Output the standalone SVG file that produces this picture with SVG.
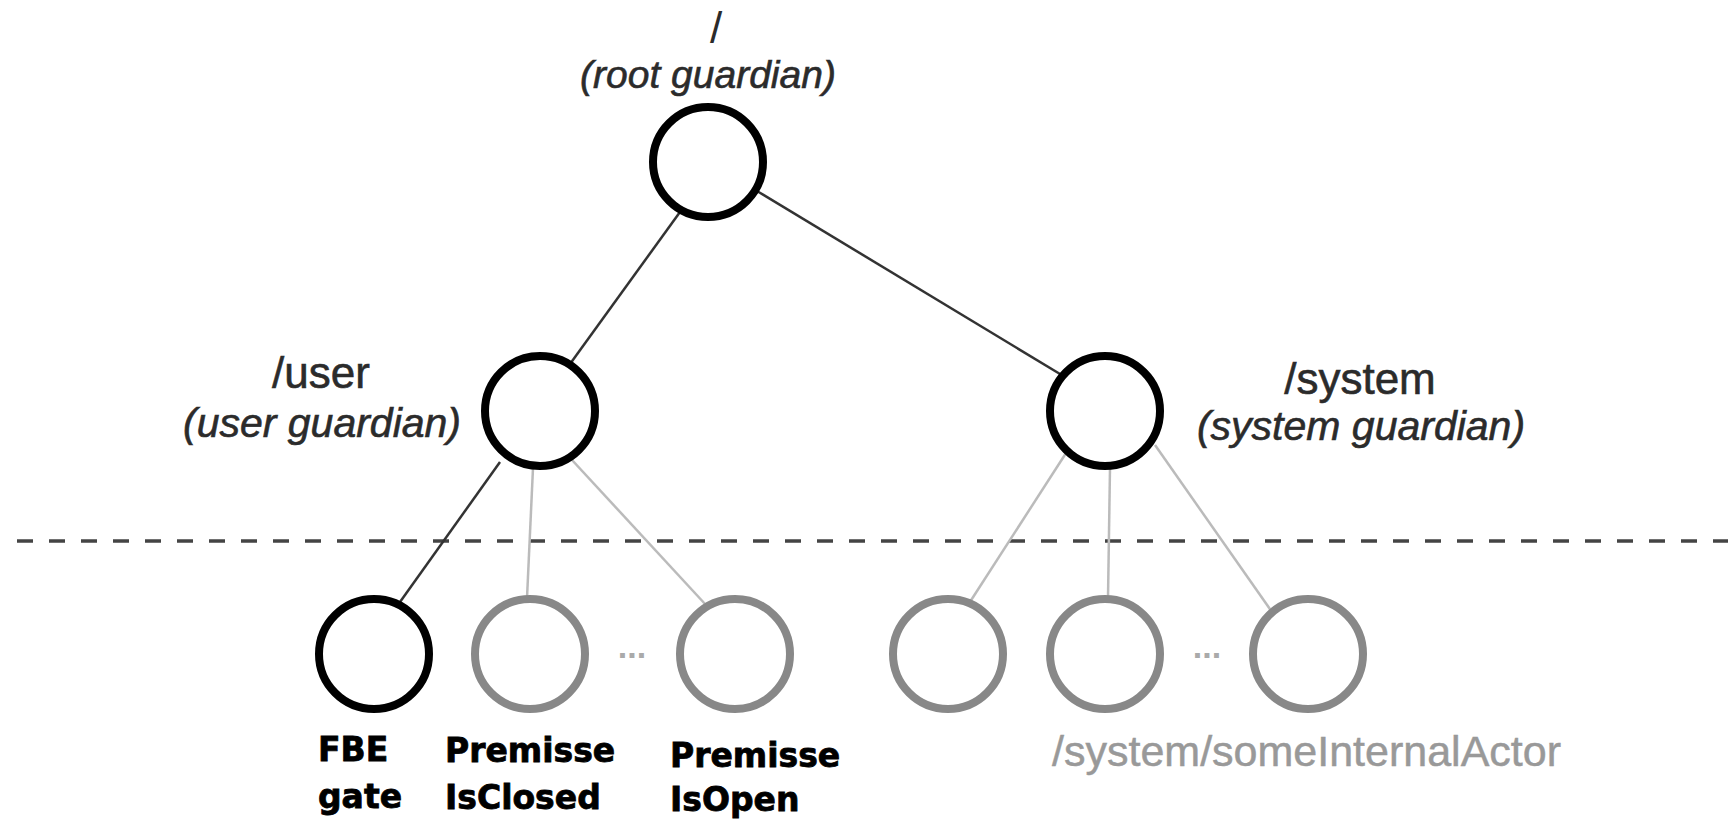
<svg xmlns="http://www.w3.org/2000/svg" width="1728" height="820" viewBox="0 0 1728 820">
<style>
.bg{fill:#fff}
.lnd{stroke:#333;stroke-width:2.5;fill:none}
.lnl{stroke:#bbb;stroke-width:2.5;fill:none}
.dash{stroke:#444;stroke-width:3.5;stroke-dasharray:16 16;fill:none}
.nb{fill:#fff;stroke:#000;stroke-width:8}
.ng{fill:#fff;stroke:#888;stroke-width:8}
.lab{font-family:"Liberation Sans",Arial,sans-serif;fill:#2b2b2b;stroke:#2b2b2b;stroke-width:0.6;text-anchor:middle}
.it{font-style:italic;font-size:41px}
.rg{font-size:44px}
.bl{font-family:"DejaVu Sans",sans-serif;font-weight:bold;font-size:33px;fill:#000;stroke:#000;stroke-width:0.8}
.dots{font-family:"Liberation Sans",Arial,sans-serif;font-weight:bold;font-size:34px;fill:#aaa;text-anchor:middle}
.grey{font-family:"Liberation Sans",Arial,sans-serif;font-size:43px;fill:#999;stroke:#999;stroke-width:0.5}
</style>
<rect class="bg" x="0" y="0" width="1728" height="820"/>
<line class="dash" x1="17" y1="541" x2="1728" y2="541"/>
<g id="connectors">
<line class="lnd" x1="680" y1="212" x2="570" y2="364"/>
<line class="lnd" x1="757" y1="191" x2="1060" y2="374"/>
<line class="lnd" x1="500" y1="462" x2="400" y2="602"/>
<line class="lnl" x1="533" y1="468" x2="527" y2="598"/>
<line class="lnl" x1="560" y1="447" x2="706" y2="605"/>
<line class="lnl" x1="1068" y1="450" x2="968" y2="605"/>
<line class="lnl" x1="1110" y1="468" x2="1108" y2="598"/>
<line class="lnl" x1="1155" y1="445" x2="1272" y2="612"/>
</g>
<g id="root">
<circle class="nb" cx="708" cy="162" r="55"/>
<text class="lab" x="716" y="43" style="font-size:44px;stroke-width:0">/</text>
<text class="lab" x="708" y="88" style="font-style:italic;font-size:39px">(root guardian)</text>
</g>
<g id="user">
<circle class="nb" cx="540" cy="411" r="55"/>
<text class="lab rg" x="321" y="388">/user</text>
<text class="lab it" x="322" y="437">(user guardian)</text>
</g>
<g id="system">
<circle class="nb" cx="1105" cy="411" r="55"/>
<text class="lab rg" x="1360" y="394">/system</text>
<text class="lab it" x="1361" y="440">(system guardian)</text>
</g>
<g id="fbe-gate">
<circle class="nb" cx="374" cy="654" r="55"/>
<text class="bl" x="318" y="761">FBE</text>
<text class="bl" x="318" y="808">gate</text>
</g>
<g id="premisse-isclosed">
<circle class="ng" cx="530" cy="654" r="55"/>
<text class="bl" x="445" y="762">Premisse</text>
<text class="bl" x="445" y="809">IsClosed</text>
</g>
<text class="dots" x="632" y="658">...</text>
<g id="premisse-isopen">
<circle class="ng" cx="735" cy="654" r="55"/>
<text class="bl" x="670" y="767">Premisse</text>
<text class="bl" x="670" y="811">IsOpen</text>
</g>
<g id="system-child-1">
<circle class="ng" cx="948" cy="654" r="55"/>
</g>
<g id="system-child-2">
<circle class="ng" cx="1105" cy="654" r="55"/>
</g>
<text class="dots" x="1207" y="658">...</text>
<g id="system-child-3">
<circle class="ng" cx="1308" cy="654" r="55"/>
<text class="grey" x="1052" y="766">/system/someInternalActor</text>
</g>
</svg>
